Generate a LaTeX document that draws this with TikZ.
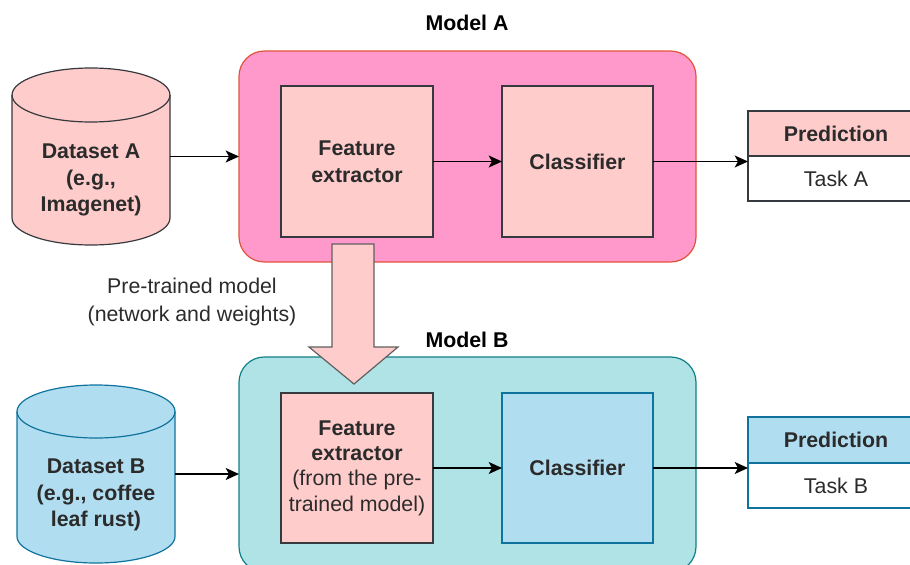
\documentclass[tikz,border=0pt]{standalone}
\usepackage{fontspec}
\setmainfont{Liberation Sans}
\usetikzlibrary{fit,arrows.meta}

\definecolor{pinkbg}{HTML}{FF99CC}
\definecolor{pinkedge}{HTML}{E0543C}
\definecolor{rosefill}{HTML}{FFCCCC}
\definecolor{darkedge}{HTML}{36393D}
\definecolor{tealbg}{HTML}{B0E3E6}
\definecolor{tealedge}{HTML}{0E8088}
\definecolor{bluefill}{HTML}{B1DDF0}
\definecolor{blueedge}{HTML}{10739E}
\definecolor{txt}{HTML}{2B2B2B}

\tikzset{
  px/.style={x=0.75pt,y=-0.75pt},
  boxtext/.style={font=\fontsize{16}{20}\selectfont\bfseries, text=txt, align=center},
  plaintext/.style={font=\fontsize{16}{21}\selectfont, text=txt, align=center},
  fitbox/.style={inner sep=0pt, outer sep=0pt, line width=0.9pt},
  modelA/.style={fitbox, draw=pinkedge, fill=pinkbg, rounded corners=19pt},
  modelB/.style={fitbox, draw=tealedge, fill=tealbg, rounded corners=19pt},
  roseblock/.style={fitbox, draw=darkedge, fill=rosefill},
  blueblock/.style={fitbox, draw=blueedge, fill=bluefill},
  flow/.style={-{Stealth[length=10pt,width=9pt,inset=2.5pt]}, line width=1pt, black},
  title/.style={font=\fontsize{16}{20}\selectfont\bfseries, text=black}
}

\begin{document}
\begin{tikzpicture}[px]
\clip (0,0) rectangle (910,564);

% ---------- Model A ----------
\node[title] (titleA) at (467,23) {Model A};
\node[modelA, fit={(239,51) (696,262)}] (mA) {};
\node[roseblock, fit={(281,86) (433,237)}] (feA) {};
\node[boxtext] at (357,161.5) {Feature\\extractor};
\node[roseblock, fit={(502,86) (653,237)}] (clsA) {};
\node[boxtext] at (577.5,161.5) {Classifier};

% dataset A cylinder
\filldraw[line width=0.9pt, draw=darkedge, fill=rosefill]
  (12,95) -- (12,218) arc[start angle=180,end angle=0,x radius=79,y radius=27]
  -- (170,95) arc[start angle=0,end angle=-180,x radius=79,y radius=27] -- cycle;
\draw[line width=0.9pt, darkedge] (12,95) arc[start angle=180,end angle=0,x radius=79,y radius=27];
\node[fitbox, fit={(12,68) (170,245)}] (dsA) {};
\node[boxtext] at (91,180) {Dataset A\\(e.g.,\\Imagenet)};

% prediction A table
\node[roseblock, fit={(748,111) (924,156)}] (predAhead) {};
\node[boxtext] at (836,133.5) {Prediction};
\node[fitbox, draw=darkedge, fill=white, fit={(748,156) (924,201)}] (predAbody) {};
\node[plaintext] at (836,179) {Task A};
\node[fitbox, fit={(748,111) (924,201)}] (predA) {};

\draw[flow] (dsA.east) -- (dsA.east -| mA.west);
\draw[flow] (feA.east) -- (clsA.west);
\draw[flow] (clsA.east) -- (clsA.east -| predA.west);

% ---------- Model B ----------
\node[title] (titleB) at (467,340) {Model B};
\node[modelB, fit={(239,357) (696,572)}] (mB) {};
\node[roseblock, fit={(281,393) (433,543)}] (feB) {};
\node[plaintext, font=\fontsize{16}{19}\selectfont] at (357,468)
  {\textbf{Feature}\\\textbf{extractor}\\(from the pre-\\trained model)};
\node[blueblock, fit={(502,393) (653,543)}] (clsB) {};
\node[boxtext] at (577.5,468) {Classifier};

% dataset B cylinder
\filldraw[line width=0.9pt, draw=blueedge, fill=bluefill]
  (17,411.5) -- (17,536.5) arc[start angle=180,end angle=0,x radius=79,y radius=26.5]
  -- (175,411.5) arc[start angle=0,end angle=-180,x radius=79,y radius=26.5] -- cycle;
\draw[line width=0.9pt, blueedge] (17,411.5) arc[start angle=180,end angle=0,x radius=79,y radius=26.5];
\node[fitbox, fit={(17,385) (175,563)}] (dsB) {};
\node[boxtext] at (96,495) {Dataset B\\(e.g., coffee\\leaf rust)};

% prediction B table
\node[blueblock, fit={(748,417) (924,463)}] (predBhead) {};
\node[boxtext] at (836,440) {Prediction};
\node[fitbox, draw=blueedge, fill=white, fit={(748,463) (924,508)}] (predBbody) {};
\node[plaintext] at (836,486) {Task B};
\node[fitbox, fit={(748,417) (924,508)}] (predB) {};

\draw[flow] (dsB.east) -- (dsB.east -| mB.west);
\draw[flow] (feB.east) -- (clsB.west);
\draw[flow] (clsB.east) -- (clsB.east -| predB.west);

% ---------- transfer of the pre-trained model ----------
\filldraw[line width=0.9pt, draw=gray!75!black, fill=rosefill]
  (332,244) -- (374,244) -- (374,347) -- (398,347) -- (354,384)
  -- (309,347) -- (332,347) -- cycle;
\node[plaintext] (transfer) at (192,302) {Pre-trained model\\(network and weights)};

\end{tikzpicture}
\end{document}
